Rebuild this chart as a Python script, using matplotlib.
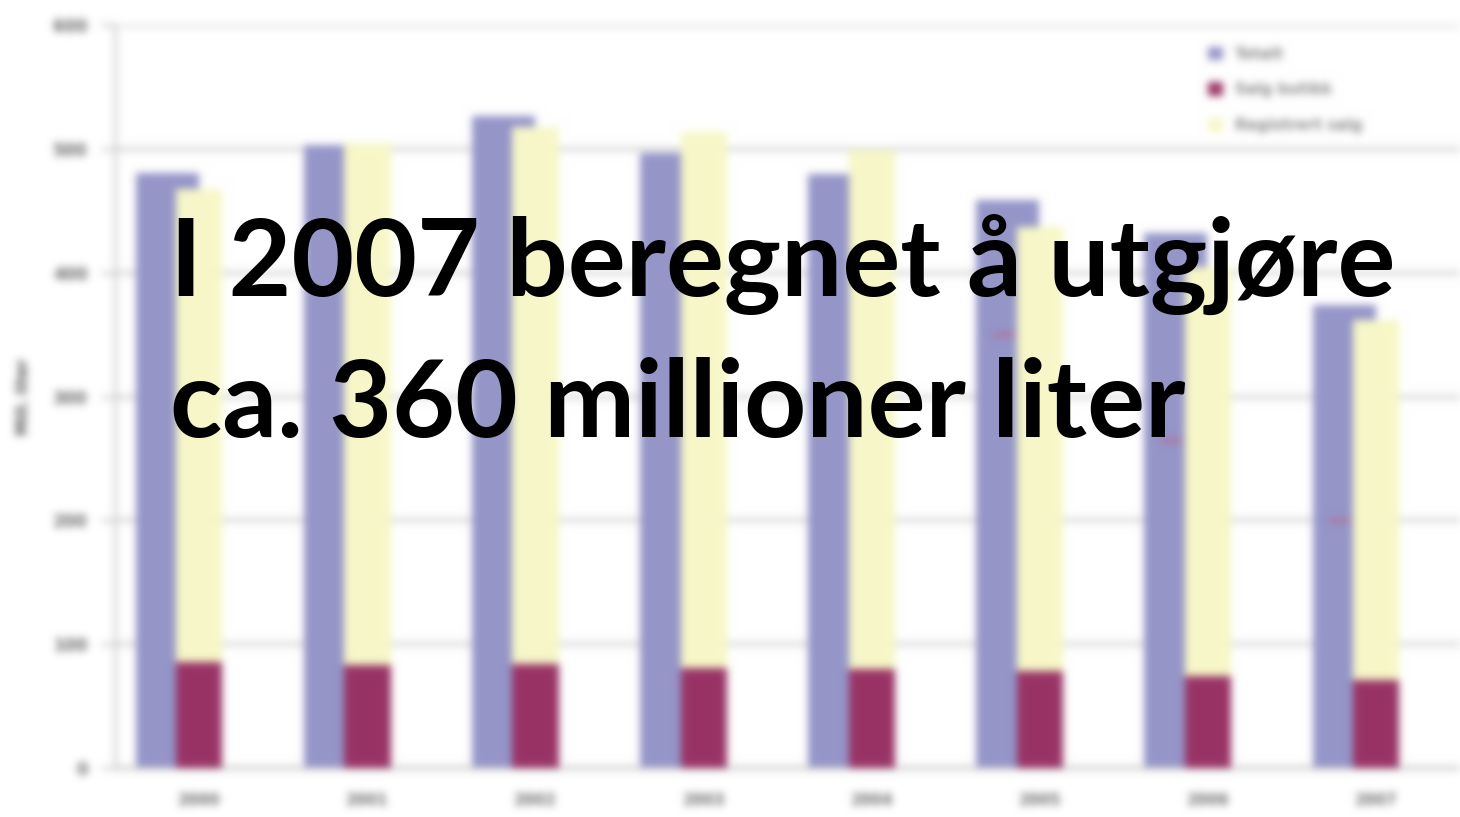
import matplotlib
matplotlib.use("Agg")
import matplotlib.pyplot as plt
import numpy as np

years = ["2000", "2001", "2002", "2003", "2004", "2005", "2006", "2007"]
total_a = [481, 503, 527, 497, 480, 459, 432, 374]      # blue bars
stack_bottom = [86, 83, 84, 81, 80, 78, 74, 71]         # dark red part
stack_total = [468, 505, 518, 514, 499, 437, 405, 362]  # top of yellow part
marks = [None, None, None, None, None, 351, 265, 200]   # faint red marks in blue bars
legend_labels = ["Totalt", "Salg butikk", "Registrert salg"]
y_ticks = [0, 100, 200, 300, 400, 500, 600]
y_label = "Mill. liter"
overlay = ["I 2007 beregnet å utgjøre", "ca. 360 millioner liter"]

BLUE = "#9595c9"
RED = "#993366"
YELLOW = "#f7f7c8"
GREY = "#6e6e6e"


def blur(sigma):
	r = int(3 * sigma)
	k = np.exp(-0.5 * (np.arange(-r, r + 1) / sigma) ** 2)
	k /= k.sum()

	def f(img, dpi):
		# blur in premultiplied space, grow the image by r so nothing is cut off
		pm = img.copy()
		pm[..., :3] *= pm[..., 3:4]
		h, w = img.shape[:2]
		pad = np.pad(pm, ((2 * r, 2 * r), (2 * r, 2 * r), (0, 0)))
		W2, H2 = w + 2 * r, h + 2 * r
		tmp = np.zeros((h + 4 * r, W2, 4))
		for i, kv in enumerate(k):
			tmp += kv * pad[:, i:i + W2]
		out = np.zeros((H2, W2, 4))
		for i, kv in enumerate(k):
			out += kv * tmp[i:i + H2]
		a = out[..., 3:4]
		out[..., :3] = np.where(a > 1e-6, out[..., :3] / np.maximum(a, 1e-6), 0)
		return np.clip(out, 0, 1), -r, -r
	return f


fig = plt.figure(figsize=(14.6, 8.17), dpi=100)
ax = fig.add_axes([0.079, 0.06, 0.921, 0.909])

x = np.arange(len(years))
seg = [t - b for t, b in zip(stack_total, stack_bottom)]

ax.bar(x - 0.19, total_a, width=0.375, color=BLUE, label=legend_labels[0], zorder=2)
ax.bar(x, stack_bottom, width=0.275, color=RED, label=legend_labels[1], zorder=3)
ax.bar(x, seg, width=0.275, bottom=stack_bottom, color=YELLOW, label=legend_labels[2], zorder=3)
mx = [xi - 0.22 for xi, m in zip(x, marks) if m is not None]
my = [m for m in marks if m is not None]
ax.scatter(mx, my, marker="_", s=250, color="#c0607e", linewidths=2, zorder=4)

ax.set_xlim(-0.5, 7.5)
ax.set_ylim(0, 600)
ax.set_yticks(y_ticks)
ax.set_xticks(x)
ax.set_xticklabels(years)
ax.grid(axis="y", color="#d6d6d6", linewidth=3, zorder=0)
ax.set_axisbelow(True)
for s in ["top", "right"]:
	ax.spines[s].set_visible(False)
for s in ["left", "bottom"]:
	ax.spines[s].set_color("#c8c8c8")
	ax.spines[s].set_linewidth(2)
ax.tick_params(axis="y", colors="#c8c8c8", labelcolor=GREY, length=10, width=2, labelsize=12, pad=10)
ax.tick_params(axis="x", length=0, labelcolor=GREY, labelsize=11, pad=18)
for lab in ax.get_xticklabels() + ax.get_yticklabels():
	lab.set_fontweight("bold")
ax.set_ylabel(y_label, color="#555555", fontsize=11, fontweight="bold", labelpad=16)

leg = ax.legend(loc="upper left", bbox_to_anchor=(0.802, 0.99), frameon=False,
	fontsize=11, labelspacing=1.35, handlelength=1.0, handleheight=1.0)
for t in leg.get_texts():
	t.set_color("#8a8a8a")
	t.set_fontweight("bold")

ax.set_agg_filter(blur(4.0))

W, H = 1460, 817
for txt, base in zip(overlay, [296, 437]):
	fig.text(170 / W, 1 - base / H, txt, fontsize=78, fontweight="bold",
		family=["Lato", "DejaVu Sans"], color="black", va="baseline", ha="left")

fig.savefig("out.png", dpi=100, facecolor="white")
